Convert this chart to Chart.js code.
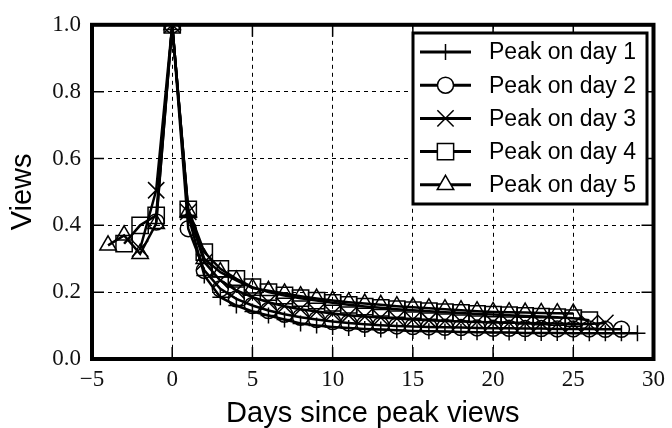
<!DOCTYPE html>
<html lang="en">
<head>
<meta charset="UTF-8">
<title>Views after peak</title>
<script src="https://cdn.jsdelivr.net/npm/chart.js"></script>
<style>
    html, body { margin: 0; padding: 0; background: #fff; }
    .chart-box { width: 672px; height: 428px; }
</style>
</head>
<body>
<div class="chart-box"><canvas id="peakChart"></canvas></div>

<script>
// days relative to the peak (-4 .. 29)
const days = [-4, -3, -2, -1, 0, 1, 2, 3, 4, 5, 6, 7, 8, 9, 10, 11, 12, 13, 14, 15,
              16, 17, 18, 19, 20, 21, 22, 23, 24, 25, 26, 27, 28, 29];

const peakDay1 = [null, null, null, null, 1.0, 0.43, 0.25, 0.185, 0.16, 0.142, 0.13, 0.118, 0.106, 0.1, 0.096,
                  0.093, 0.09, 0.088, 0.086, 0.084, 0.083, 0.082, 0.081, 0.08, 0.079, 0.079, 0.078, 0.078,
                  0.078, 0.077, 0.077, 0.077, 0.077, 0.077];
const peakDay2 = [null, null, null, 0.41, 1.0, 0.39, 0.265, 0.21, 0.18, 0.16, 0.145, 0.134, 0.125, 0.118, 0.112,
                  0.108, 0.104, 0.101, 0.099, 0.097, 0.096, 0.095, 0.094, 0.093, 0.092, 0.092, 0.091, 0.091,
                  0.09, 0.09, 0.09, 0.089, 0.089, null];
const peakDay3 = [null, null, 0.33, 0.505, 1.0, 0.44, 0.29, 0.235, 0.205, 0.185, 0.17, 0.158, 0.149, 0.142, 0.136,
                  0.131, 0.127, 0.124, 0.121, 0.118, 0.116, 0.114, 0.112, 0.111, 0.11, 0.109, 0.108, 0.107,
                  0.106, 0.105, 0.105, 0.108, null, null];
const peakDay4 = [null, 0.345, 0.40, 0.43, 1.0, 0.448, 0.32, 0.27, 0.24, 0.215, 0.2, 0.19, 0.182, 0.175, 0.168,
                  0.162, 0.157, 0.153, 0.149, 0.146, 0.143, 0.14, 0.138, 0.135, 0.133, 0.131, 0.129, 0.127,
                  0.125, 0.122, 0.116, null, null, null];
const peakDay5 = [0.34, 0.37, 0.315, 0.405, 1.0, 0.44, 0.30, 0.26, 0.235, 0.212, 0.204, 0.196, 0.188, 0.181, 0.175,
                  0.17, 0.166, 0.162, 0.158, 0.155, 0.152, 0.149, 0.146, 0.143, 0.141, 0.14, 0.139, 0.138,
                  0.137, 0.136, null, null, null, null];

const seriesNames = ['Peak on day 1', 'Peak on day 2', 'Peak on day 3', 'Peak on day 4', 'Peak on day 5'];
const xTicks = [-5, 0, 5, 10, 15, 20, 25, 30];
const yTicks = [0.0, 0.2, 0.4, 0.6, 0.8, 1.0];

const markers = [
    { style: 'cross', radius: 8 },
    { style: 'circle', radius: 8 },
    { style: 'crossRot', radius: 11.5 },
    { style: 'rect', radius: 11.5 },
    { style: 'triangle', radius: 9.5 }
];

function toPoints(values) {
    const pts = [];
    values.forEach((v, i) => { if (v !== null) pts.push({ x: days[i], y: v }); });
    return pts;
}

const allSeries = [peakDay1, peakDay2, peakDay3, peakDay4, peakDay5];

const datasets = allSeries.map((vals, i) => ({
    label: seriesNames[i],
    data: toPoints(vals),
    borderColor: '#000',
    borderWidth: 2.5,
    pointStyle: markers[i].style,
    pointRadius: markers[i].radius,
    pointBorderWidth: 1.5,
    pointBorderColor: '#000',
    pointBackgroundColor: 'rgba(0,0,0,0)',
    tension: 0
}));

// frame + inward ticks on all four sides
const framePlugin = {
    id: 'frame',
    afterDatasetsDraw(chart) {
        const ctx = chart.ctx;
        const a = chart.chartArea;
        const xs = chart.scales.x, ys = chart.scales.y;
        ctx.save();
        ctx.strokeStyle = '#000';
        ctx.lineWidth = 1.5;
        ctx.beginPath();
        xTicks.forEach(v => {
            const px = xs.getPixelForValue(v);
            ctx.moveTo(px, a.bottom); ctx.lineTo(px, a.bottom - 12);
            ctx.moveTo(px, a.top); ctx.lineTo(px, a.top + 12);
        });
        yTicks.forEach(v => {
            const py = ys.getPixelForValue(v);
            ctx.moveTo(a.left, py); ctx.lineTo(a.left + 12, py);
            ctx.moveTo(a.right, py); ctx.lineTo(a.right - 12, py);
        });
        ctx.stroke();
        ctx.lineWidth = 4;
        ctx.strokeRect(a.left, a.top, a.right - a.left, a.bottom - a.top);
        ctx.restore();
    }
};

// boxed legend with line + marker samples
const legendPlugin = {
    id: 'boxLegend',
    afterDraw(chart) {
        const ctx = chart.ctx;
        const box = { left: 413, top: 33, right: 647, bottom: 204 };
        ctx.save();
        ctx.fillStyle = '#fff';
        ctx.fillRect(box.left, box.top, box.right - box.left, box.bottom - box.top);
        ctx.strokeStyle = '#000';
        ctx.lineWidth = 3;
        ctx.strokeRect(box.left, box.top, box.right - box.left, box.bottom - box.top);

        chart.data.datasets.forEach((ds, i) => {
            const y = box.top + 19 + i * 33.2;
            ctx.strokeStyle = '#000';
            ctx.lineWidth = 3;
            ctx.beginPath();
            ctx.moveTo(420, y);
            ctx.lineTo(471, y);
            ctx.stroke();
            if (Chart.helpers && Chart.helpers.drawPoint) {
                ctx.fillStyle = '#fff';
                ctx.lineWidth = 1.5;
                Chart.helpers.drawPoint(ctx, {
                    pointStyle: ds.pointStyle,
                    radius: ds.pointRadius,
                    borderWidth: 1.5,
                    rotation: 0
                }, 445.5, y);
            }
            ctx.fillStyle = '#000';
            ctx.font = '23px "Liberation Sans", Arial, sans-serif';
            ctx.textAlign = 'left';
            ctx.textBaseline = 'middle';
            ctx.fillText(ds.label, 489, y + 1);
        });
        ctx.restore();
    }
};

const serifTicks = { family: '"Liberation Serif", "DejaVu Serif", serif', size: 23 };
const sansTitle = { family: '"Liberation Sans", Arial, sans-serif', size: 29, lineHeight: 1 };

new Chart(document.getElementById('peakChart'), {
    type: 'line',
    data: { datasets: datasets },
    plugins: [framePlugin, legendPlugin],
    options: {
        responsive: true,
        maintainAspectRatio: false,
        animation: false,
        layout: { padding: { top: 22, right: 16, left: 0, bottom: 0 } },
        plugins: { legend: { display: false }, tooltip: { enabled: false } },
        scales: {
            x: {
                type: 'linear',
                min: -5,
                max: 30,
                afterBuildTicks: s => { s.ticks = xTicks.map(v => ({ value: v })); },
                afterFit: s => { s.height = 69; },
                ticks: {
                    color: '#111',
                    font: serifTicks,
                    padding: 7,
                    maxRotation: 0,
                    callback: v => v < 0 ? '\u2212' + Math.abs(v) : String(v)
                },
                grid: { color: '#000', lineWidth: 1, drawTicks: false },
                border: { display: false, dash: [4, 4] },
                title: {
                    display: true,
                    text: 'Days since peak views',
                    color: '#000',
                    font: sansTitle,
                    padding: { top: 0, bottom: 0 }
                }
            },
            y: {
                type: 'linear',
                min: 0,
                max: 1,
                afterBuildTicks: s => { s.ticks = yTicks.map(v => ({ value: v })); },
                afterFit: s => { s.width = 92; },
                ticks: {
                    color: '#111',
                    font: serifTicks,
                    padding: 11,
                    callback: v => Number(v).toFixed(1)
                },
                grid: { color: '#000', lineWidth: 1, drawTicks: false },
                border: { display: false, dash: [4, 4] },
                title: {
                    display: true,
                    text: 'Views',
                    color: '#000',
                    font: sansTitle,
                    padding: { top: 8, bottom: 0 }
                }
            }
        }
    }
});
</script>
</body>
</html>
